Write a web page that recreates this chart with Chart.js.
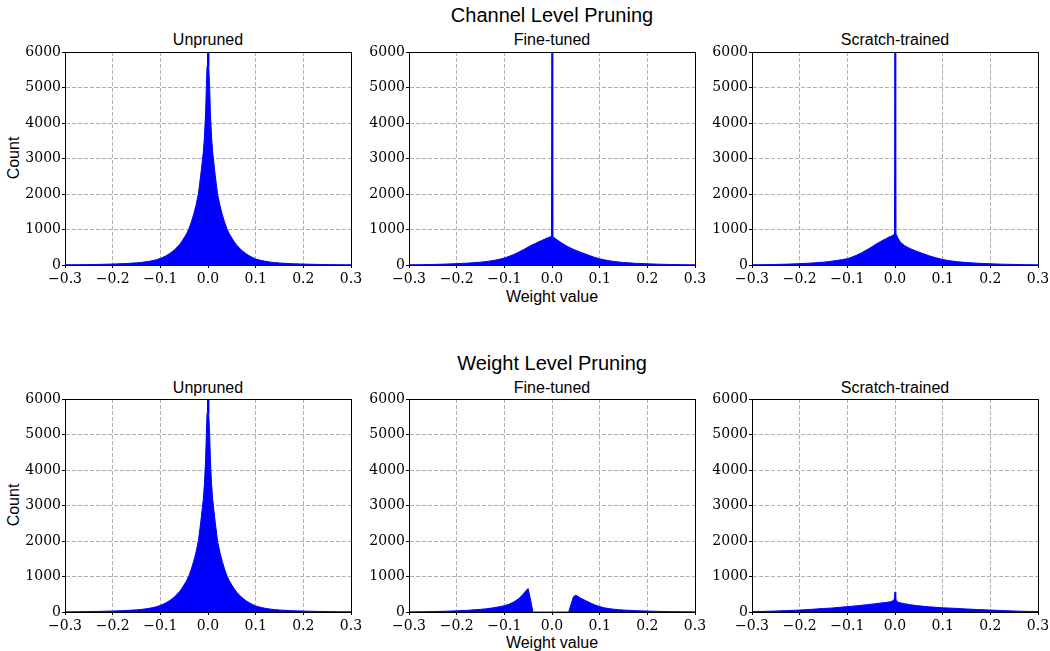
<!DOCTYPE html>
<html><head><meta charset="utf-8">
<script src="https://cdn.jsdelivr.net/npm/chart.js@4.4.1/dist/chart.umd.min.js"></script>
<style>
html,body{margin:0;padding:0;background:#fff;}
body{width:1050px;height:651px;position:relative;overflow:hidden;font-family:'Liberation Sans',Arial,Helvetica,sans-serif;color:#000;}
canvas{position:absolute;}
.t{position:absolute;white-space:nowrap;transform:translate(-50%,-50%);line-height:1;}
.r{transform:translate(-50%,-50%) rotate(-90deg);}
</style></head><body>
<div class="t" style="left:552px;top:15px;font-size:20px">Channel Level Pruning</div>
<div class="t" style="left:552px;top:363px;font-size:20px">Weight Level Pruning</div>
<div class="t" style="left:208px;top:40px;font-size:16px">Unpruned</div>
<div class="t" style="left:552px;top:40px;font-size:16px">Fine-tuned</div>
<div class="t" style="left:895px;top:40px;font-size:16px">Scratch-trained</div>
<div class="t" style="left:208px;top:388px;font-size:16px">Unpruned</div>
<div class="t" style="left:552px;top:388px;font-size:16px">Fine-tuned</div>
<div class="t" style="left:895px;top:388px;font-size:16px">Scratch-trained</div>
<div class="t r" style="left:14px;top:158px;font-size:16px">Count</div>
<div class="t r" style="left:14px;top:505px;font-size:16px">Count</div>
<div class="t" style="left:552px;top:297px;font-size:16px">Weight value</div>
<div class="t" style="left:552px;top:643px;font-size:16px">Weight value</div>
<canvas id="c1"></canvas><canvas id="c2"></canvas><canvas id="c3"></canvas>
<canvas id="c4"></canvas><canvas id="c5"></canvas><canvas id="c6"></canvas>
<script>
// ---- data ----
const weightValues = [-0.3,-0.275,-0.25,-0.225,-0.2,-0.175,-0.15,
  -0.14,-0.13,-0.12,-0.11,-0.1,
  -0.09,-0.08,-0.07,-0.06,
  -0.055,-0.05,-0.045,-0.04,-0.035,-0.03,-0.025,-0.02,-0.015,
  -0.01,-0.0075,-0.005,-0.0035,-0.002,-0.001,
  0,
  0.001,0.002,0.0035,0.005,0.0075,0.01,
  0.015,0.02,0.025,0.03,0.035,0.04,0.045,0.05,0.055,
  0.06,0.07,0.08,0.09,
  0.1,0.11,0.12,0.13,0.14,
  0.15,0.175,0.2,0.225,0.25,0.275,0.3];

const channelUnpruned = [6,8,12,18,27,39,60,
  73,89,112,142,185,
  245,325,430,570,
  665,770,880,1020,1210,1430,1690,2020,2560,
  3160,3600,4300,5000,5600,6300,
  7500,
  6300,5600,5000,4300,3600,3150,
  2550,2000,1680,1420,1200,1010,870,760,655,
  560,420,315,235,
  170,132,104,83,68,
  56,37,26,18,12,8,6];

const channelFineTuned = [6,10,15,25,38,55,80,
  95,112,134,162,195,
  243,298,362,432,
  470,508,542,575,607,640,670,700,730,
  758,772,786,795,805,810,
  9000,
  800,790,780,765,740,715,
  670,625,582,542,505,472,441,412,385,
  360,310,260,213,
  175,145,120,100,84,
  70,48,34,22,14,9,5];

const channelScratch = [6,10,15,25,38,55,80,
  95,112,132,153,178,
  225,280,345,420,
  460,500,545,585,625,665,700,735,770,
  800,815,830,845,870,980,
  9000,
  1050,900,840,790,730,670,
  600,550,510,475,445,415,390,365,340,
  315,268,225,188,
  155,130,110,94,81,
  70,48,34,23,15,9,5];

const weightUnpruned = [6,8,12,18,27,39,60,
  73,89,112,142,185,
  245,325,430,570,
  665,770,880,1020,1210,1430,1690,2020,2560,
  3160,3600,4300,5000,5600,6300,
  7500,
  6300,5600,5000,4300,3600,3150,
  2550,2000,1680,1420,1200,1010,870,760,655,
  560,420,315,235,
  170,132,104,83,68,
  56,37,26,18,12,8,6];

const weightFineTuned = [4,7,12,20,32,50,75,
  88,105,125,150,178,
  220,285,375,505,
  600,660,340,0,0,0,0,0,0,
  0,0,0,0,0,0,
  0,
  0,0,0,0,0,0,
  0,0,0,0,0,220,430,475,435,
  390,325,258,198,
  152,118,95,78,65,
  55,38,26,17,11,7,4];

const weightScratch = [12,18,28,40,55,75,100,
  105,115,128,140,150,
  162,175,190,205,
  212,220,228,235,243,252,260,268,278,
  290,300,315,330,360,440,
  560,
  460,370,320,290,275,262,
  248,235,222,210,200,190,182,175,168,
  160,148,138,128,
  118,113,107,100,93,
  85,68,55,40,28,18,12];

const xTickValues = [-0.3,-0.2,-0.1,0,0.1,0.2,0.3];
const xTickLabels = ['\u22120.3','\u22120.2','\u22120.1','0.0','0.1','0.2','0.3'];
const yTickValues = [0,1000,2000,3000,4000,5000,6000];
const yTickLabels = ['0','1000','2000','3000','4000','5000','6000'];

// ---- layout ----
const PLOT_W = 286, PLOT_H = 213, YAX = 62, XAX = 30, PT = 10, PR = 16;
const panels = [
  {id:'c1', left:65,  top:52,  counts:channelUnpruned},
  {id:'c2', left:409, top:52,  counts:channelFineTuned},
  {id:'c3', left:752, top:52,  counts:channelScratch},
  {id:'c4', left:65,  top:399, counts:weightUnpruned},
  {id:'c5', left:409, top:399, counts:weightFineTuned},
  {id:'c6', left:752, top:399, counts:weightScratch}
];

const framePlugin = {
  id:'frame',
  afterDraw(chart){
    const {ctx, chartArea:a} = chart;
    ctx.save();
    ctx.strokeStyle = '#000';
    ctx.lineWidth = 1;
    ctx.setLineDash([]);
    ctx.strokeRect(Math.round(a.left)+0.5, Math.round(a.top)+0.5,
                   Math.round(a.right-a.left), Math.round(a.bottom-a.top));
    ctx.restore();
  }
};

const tickFont = {family:'DejaVu Serif', size:14};
const gridCommon = {color:'#b0b0b0', lineWidth:1, tickLength:3, tickColor:'#000', tickWidth:1, tickBorderDash:[]};

panels.forEach(p => {
  const cv = document.getElementById(p.id);
  const W = YAX + PLOT_W + PR, H = PT + PLOT_H + XAX;
  cv.width = W; cv.height = H;
  cv.style.left = (p.left - YAX) + 'px';
  cv.style.top = (p.top - PT) + 'px';
  new Chart(cv.getContext('2d'), {
    type:'line',
    data:{datasets:[{
      data: weightValues.map((x,i)=>({x:x, y:p.counts[i]})),
      fill:'origin',
      backgroundColor:'#0000ff',
      borderColor:'#0000ff',
      borderWidth:1,
      pointRadius:0,
      tension:0
    }]},
    options:{
      responsive:false, animation:false, devicePixelRatio:1,
      layout:{padding:{top:PT, right:PR, left:0, bottom:0}},
      plugins:{legend:{display:false}, tooltip:{enabled:false}, title:{display:false}},
      scales:{
        x:{type:'linear', min:-0.3, max:0.3, z:1,
           afterBuildTicks: s => { s.ticks = xTickValues.map(v=>({value:v})); },
           afterFit: s => { s.height = XAX; },
           ticks:{callback:(v,i)=>xTickLabels[i], font:tickFont, color:'#000', padding:3, maxRotation:0, autoSkip:false},
           grid:gridCommon,
           border:{display:true, color:'#000', width:1, dash:[4,2]}},
        y:{type:'linear', min:0, max:6000, z:1,
           afterBuildTicks: s => { s.ticks = yTickValues.map(v=>({value:v})); },
           afterFit: s => { s.width = YAX; },
           ticks:{callback:(v,i)=>yTickLabels[i], font:tickFont, color:'#000', padding:1, autoSkip:false},
           grid:gridCommon,
           border:{display:true, color:'#000', width:1, dash:[4,2]}}
      }
    },
    plugins:[framePlugin]
  });
});
</script>
</body></html>
